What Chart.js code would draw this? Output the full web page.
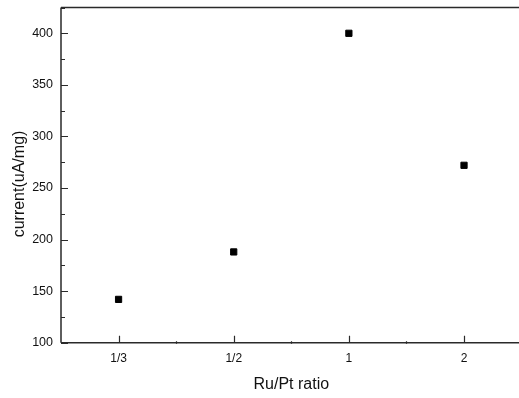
<!DOCTYPE html>
<html>
<head>
<meta charset="utf-8">
<script src="https://cdn.jsdelivr.net/npm/chart.js@4/dist/chart.umd.min.js"></script>
<style>
html,body{margin:0;padding:0;background:#fff;overflow:hidden;}
#wrap{width:519px;height:398px;overflow:hidden;}
canvas{display:block;}
</style>
</head>
<body>
<div id="wrap"><canvas id="c" width="527" height="398" style="width:527px;height:398px"></canvas></div>
<script>
const categories = ['1/3', '1/2', '1', '2'];
const currentValues = [142, 188, 400, 272];
const yMajorTicks = [100, 150, 200, 250, 300, 350, 400];
const yMinorTicks = [125, 175, 225, 275, 325, 375, 425];
const yTitle = 'current(uA/mg)';
const xTitle = 'Ru/Pt ratio';

const AXIS_COLOR = '#2a2a2a';
const FONT = 'Arial, "Liberation Sans", sans-serif';

const tickPlugin = {
  id: 'originTicks',
  afterDraw(chart) {
    const ctx = chart.ctx;
    const a = chart.chartArea;
    const x = chart.scales.x, y = chart.scales.y;
    ctx.save();
    ctx.strokeStyle = AXIS_COLOR;
    ctx.lineWidth = 1.5;
    ctx.beginPath();
    ctx.moveTo(a.left, a.top); ctx.lineTo(a.right, a.top);
    ctx.moveTo(a.left, a.top); ctx.lineTo(a.left, a.bottom);
    ctx.moveTo(a.left, a.bottom); ctx.lineTo(a.right, a.bottom);
    ctx.stroke();
    ctx.lineWidth = 1.2;
    ctx.beginPath();
    yMajorTicks.forEach(v => {
      const py = Math.round(y.getPixelForValue(v)) + 0.5;
      ctx.moveTo(a.left, py); ctx.lineTo(a.left + 7, py);
    });
    yMinorTicks.forEach(v => {
      const py = Math.round(y.getPixelForValue(v)) + 0.5;
      ctx.moveTo(a.left, py); ctx.lineTo(a.left + 4, py);
    });
    categories.forEach((c, i) => {
      const px = Math.round(x.getPixelForValue(i)) + 0.5;
      ctx.moveTo(px, a.bottom); ctx.lineTo(px, a.bottom - 7);
    });
    for (let i = 0; i < categories.length - 1; i++) {
      const px = Math.round(x.getPixelForValue(i + 0.5)) + 0.5;
      ctx.moveTo(px, a.bottom + 1); ctx.lineTo(px, a.bottom - 1.5);
    }
    ctx.stroke();
    ctx.restore();
  }
};

function zeroPad(s) {
  s.paddingLeft = 0; s.paddingRight = 0; s.paddingTop = 0; s.paddingBottom = 0;
}

new Chart(document.getElementById('c'), {
  type: 'line',
  data: {
    labels: categories,
    datasets: [{
      data: currentValues,
      showLine: false,
      pointStyle: 'rect',
      pointRadius: 4.4,
      pointHoverRadius: 4.4,
      backgroundColor: '#000',
      borderColor: '#000',
      borderWidth: 1
    }]
  },
  options: {
    responsive: false,
    animation: false,
    events: [],
    layout: { padding: { top: 7.5, left: 0, right: 0, bottom: 0 } },
    plugins: { legend: { display: false }, tooltip: { enabled: false } },
    scales: {
      x: {
        type: 'category',
        offset: true,
        grid: { display: false, drawTicks: false },
        border: { display: false },
        ticks: { color: '#111', font: { family: FONT, size: 12 }, padding: 9 },
        title: { display: true, text: xTitle, color: '#111', font: { family: FONT, size: 16 }, padding: { top: 0, bottom: 4 } },
        afterFit(s) { s.height = 55.3; zeroPad(s); }
      },
      y: {
        min: 100,
        max: 425,
        grid: { display: false, drawTicks: false },
        border: { display: false },
        ticks: {
          stepSize: 50,
          color: '#111',
          font: { family: FONT, size: 12.5 },
          padding: 8,
          callback: v => (v % 50 === 0 && v <= 400) ? String(v) : ''
        },
        title: { display: true, text: yTitle + '    ', color: '#111', font: { family: FONT, size: 16 }, padding: { top: 10, bottom: 0 } },
        afterFit(s) { s.width = 61; zeroPad(s); }
      }
    }
  },
  plugins: [tickPlugin]
});
</script>
</body>
</html>
